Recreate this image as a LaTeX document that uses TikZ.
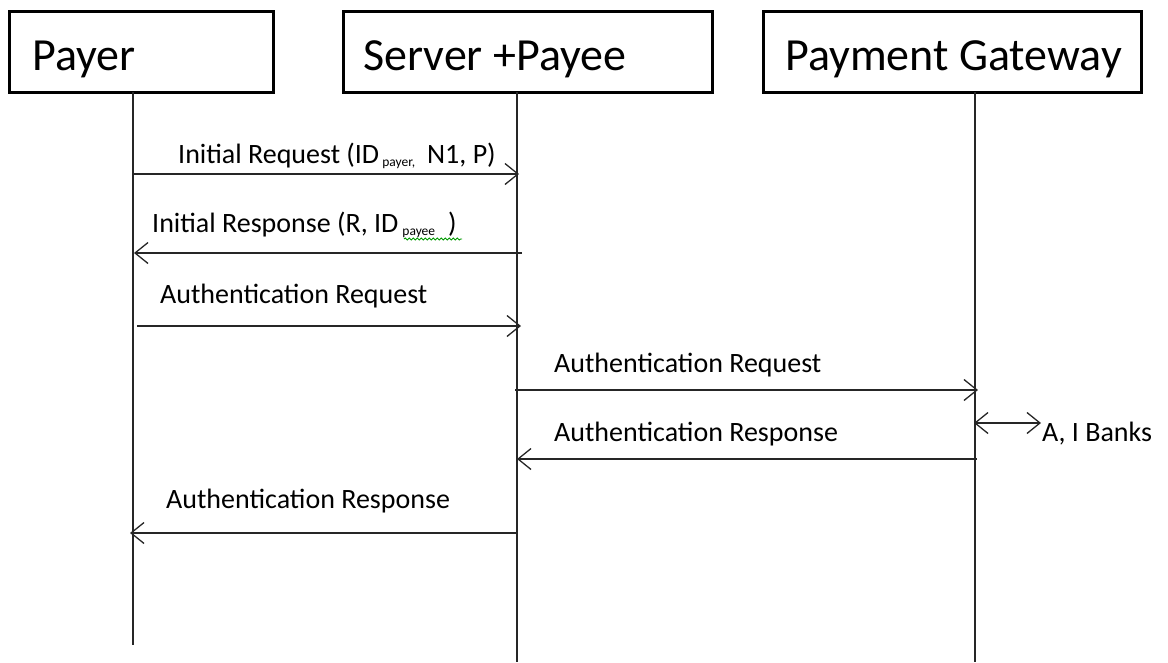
\documentclass[tikz,border=0pt]{standalone}
\usepackage{fontspec}
\setmainfont{Carlito}
\usetikzlibrary{arrows.meta,decorations.pathmorphing}
\begin{document}
\begin{tikzpicture}[x=1pt,y=-1pt,
  actorbox/.style={draw,line width=3pt,minimum width=#1,minimum height=81pt,inner sep=0pt},
  actortext/.style={anchor=base west,inner sep=0pt,font=\fontsize{46}{46}\selectfont},
  lifeline/.style={line width=1.5pt,draw=black!85},
  msg/.style={line width=1.5pt,draw=black!85,-{Straight Barb[length=13pt,width=21pt,line width=1.3pt]}},
  dmsg/.style={line width=1.5pt,draw=black!85,{Straight Barb[length=13pt,width=21pt,line width=1.3pt]}-{Straight Barb[length=13pt,width=21pt,line width=1.3pt]}},
  msgtext/.style={anchor=base west,inner sep=0pt,font=\fontsize{28}{28}\selectfont}]
\useasboundingbox (0,0) rectangle (1168,662);
\newcommand{\subtxt}[1]{\raisebox{-3.5pt}{\fontsize{13.5}{13.5}\selectfont #1}}
% actor boxes
\node[actorbox=264pt] (payer) at (141,51.5) {};
\node[actorbox=369pt] (server) at (527.5,51.5) {};
\node[actorbox=378pt] (gw) at (952,51.5) {};
\node[actortext] (payerT) at (32,70) {Payer};
\node[actortext] (serverT) at (363,70) {Server +Payee};
\node[actortext] (gwT) at (785,70) {Payment Gateway};
% lifeline ends
\coordinate (payerTop) at (133,92);
\coordinate (serverTop) at (517,92);
\coordinate (gwTop) at (975,92);
\coordinate (payerEnd) at (133,645);
\coordinate (serverEnd) at (517,662);
\coordinate (gwEnd) at (975,662);
\draw[lifeline] (payerTop) -- (payerEnd);
\draw[lifeline] (serverTop) -- (serverEnd);
\draw[lifeline] (gwTop) -- (gwEnd);
% message endpoints
\coordinate (m1a) at (133,174); \coordinate (m1b) at (519,174);
\coordinate (m2a) at (522,253); \coordinate (m2b) at (134,253);
\coordinate (m3a) at (137,326); \coordinate (m3b) at (521,326);
\coordinate (m4a) at (515,390); \coordinate (m4b) at (978,390);
\coordinate (m5a) at (977,459); \coordinate (m5b) at (517,459);
\coordinate (m6a) at (974,423); \coordinate (m6b) at (1041,423);
\coordinate (m7a) at (517,533); \coordinate (m7b) at (130,533);
\draw[msg] (m1a) -- (m1b);
\draw[msg] (m2a) -- (m2b);
\draw[msg] (m3a) -- (m3b);
\draw[msg] (m4a) -- (m4b);
\draw[msg] (m5a) -- (m5b);
\draw[dmsg] (m6a) -- (m6b);
\draw[msg] (m7a) -- (m7b);
% labels
\node[msgtext] (l1) at (178,163) {Initial Request (ID\hspace{3pt}\subtxt{payer,}\hspace{12pt}N1, P)};
\node[msgtext] (l2) at (152,232) {Initial Response (R, ID\hspace{4pt}\subtxt{payee}\hspace{13pt})};
\node[msgtext] (l3) at (160,303) {Authentication Request};
\node[msgtext] (l4) at (554,372) {Authentication Request};
\node[msgtext] (l5) at (554,441) {Authentication Response};
\node[msgtext] (l6) at (1042,441) {A, I Banks};
\node[msgtext] (l7) at (166,508) {Authentication Response};
% spell-check squiggle
\coordinate (sqa) at (404,239); \coordinate (sqb) at (462,239);
\draw[green!60!black,line width=0.9pt,decorate,decoration={snake,amplitude=1pt,segment length=4pt}] (sqa) -- (sqb);
\end{tikzpicture}
\end{document}
